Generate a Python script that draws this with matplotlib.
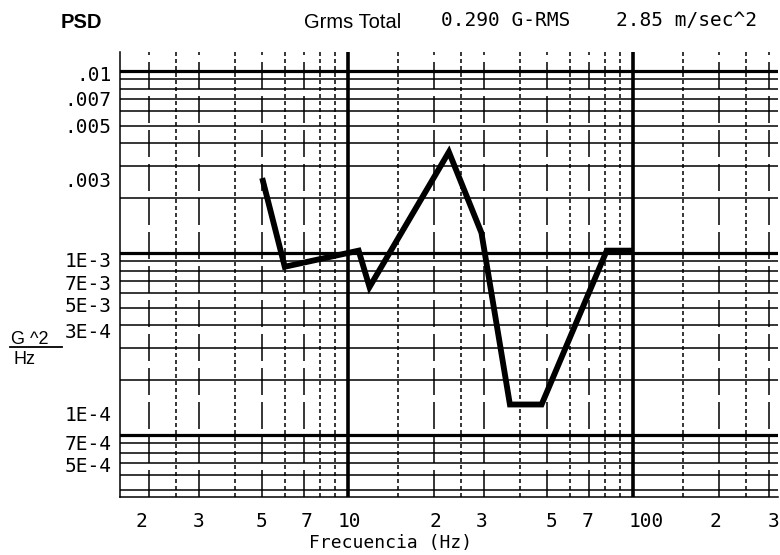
import numpy as np
import matplotlib
matplotlib.use("Agg")
import matplotlib.pyplot as plt

plt.rcParams["lines.scale_dashes"] = False

# PSD breakpoints (Hz, G^2/Hz)
freq = [5, 6, 10.9, 11.9, 22.6, 29.4, 37.0, 47.8, 80.9, 100]
psd = [0.00258, 0.00084, 0.00103, 0.00065, 0.00359, 0.00129, 0.000147, 0.000147, 0.00103, 0.00103]

grms_g = "0.290"
grms_ms2 = "2.85"

xtick_labels = ["2", "3", "5", "7", "10", "2", "3", "5", "7", "100", "2", "3"]
xtick_pos = [1.89, 3.0, 4.98, 7.16, 10.1, 20.2, 29.5, 51.8, 69.3, 111.7, 194, 312]
ytick_labels = [".01", ".007", ".005", ".003", "1E-3", "7E-3", "5E-3",
                "3E-4", "1E-4", "7E-4", "5E-4"]
ytick_pos = [0.00975, 0.00702, 0.00499, 0.00255, 0.000916, 0.000684, 0.000518,
             0.000377, 0.000132, 9.04e-5, 6.84e-5]

W, H = 780, 555
PX = 72 / 100  # points per pixel at dpi 100
MONO = "DejaVu Sans Mono"
SANS = "Liberation Sans"

fig = plt.figure(figsize=(W / 100, H / 100), dpi=100)
ax = fig.add_axes([120 / W, 1 - 497 / H, 658 / W, 445 / H])
ax.set_xscale("log")
ax.set_yscale("log")
ax.set_xlim(1.585, 322.8)
ax.set_ylim(4.56e-5, 0.01272)

# horizontal grid: every 1..9 of each decade, decades drawn heavier
for d in range(-5, -1):
    for k in range(1, 10):
        v = k * 10.0 ** d
        if 4.56e-5 < v < 0.01272:
            ax.axhline(v, color="black", lw=(2.3 if k == 1 else 1.1), zorder=1)

# vertical grid: long dashes at 2,3,5,7, short dashes at 1.5,2.5,4,6,8,9
for d in range(0, 3):
    for k in (2, 3, 5, 7):
        ax.axvline(k * 10.0 ** d, color="black", lw=1.1, zorder=1,
                   linestyle=(0, (27 * PX, 7 * PX)))
    for k in (1.5, 2.5, 4, 6, 8, 9):
        ax.axvline(k * 10.0 ** d, color="black", lw=1.1, zorder=1,
                   linestyle=(0, (4 * PX, 3 * PX)))
for v in (10, 100):
    ax.axvline(v, color="black", lw=2.6, zorder=2)

ax.plot(freq, psd, color="black", lw=4.2, solid_joinstyle="miter",
        solid_capstyle="butt", zorder=3)

for s in ("top", "right"):
    ax.spines[s].set_visible(False)
ax.spines["left"].set_linewidth(1.1)
ax.spines["bottom"].set_linewidth(1.1)

ax.xaxis.set_minor_locator(matplotlib.ticker.NullLocator())
ax.yaxis.set_minor_locator(matplotlib.ticker.NullLocator())
ax.set_xticks(xtick_pos)
ax.set_xticklabels(xtick_labels, fontfamily=MONO, fontsize=14)
ax.set_yticks(ytick_pos)
ax.set_yticklabels(ytick_labels, fontfamily=MONO, fontsize=14)
ax.tick_params(axis="x", length=0, pad=11)
ax.tick_params(axis="y", length=0, pad=6)

# header line
fig.text(81 / W, 1 - 22 / H, "PSD", fontfamily=SANS, fontsize=14.5,
         fontweight="bold", ha="center", va="center")
fig.text(353 / W, 1 - 22 / H, "Grms Total", fontfamily=SANS, fontsize=14.5,
         ha="center", va="center")
fig.text(506 / W, 1 - 21 / H, grms_g + " G-RMS", fontfamily=MONO, fontsize=14,
         ha="center", va="center")
fig.text(686 / W, 1 - 21 / H, grms_ms2 + " m/sec^2", fontfamily=MONO, fontsize=14,
         ha="center", va="center")

# axis titles
fig.text(391 / W, 1 - 543 / H, "Frecuencia (Hz)", fontfamily=MONO, fontsize=13,
         ha="center", va="center")
fig.text(30 / W, 1 - 339 / H, "G ^2", fontfamily=SANS, fontsize=13,
         ha="center", va="center")
fig.add_artist(plt.Line2D([10 / W, 62 / W], [1 - 347 / H, 1 - 347 / H],
                          color="black", lw=1.3))
fig.text(25 / W, 1 - 359 / H, "Hz", fontfamily=SANS, fontsize=13,
         ha="center", va="center")

fig.savefig("out.png", dpi=100, facecolor="white")
